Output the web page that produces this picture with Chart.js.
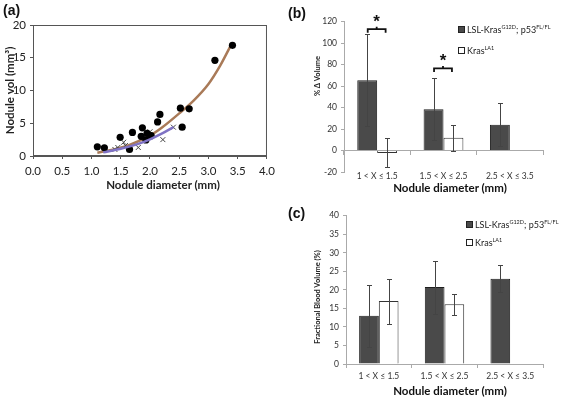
<!DOCTYPE html>
<html><head><meta charset="utf-8">
<script src="https://cdn.jsdelivr.net/npm/chart.js@4.4.0/dist/chart.umd.min.js"></script>
<style>
html,body{margin:0;padding:0;background:#fff;width:563px;height:399px;overflow:hidden;font-family:Lato,'Open Sans',sans-serif;}
.cv{position:absolute;}
.lbl{position:absolute;font-family:'Liberation Sans',Arial,sans-serif;font-weight:bold;font-size:14px;color:#111;line-height:1;}
.leg{position:absolute;font-size:9px;color:#222;white-space:nowrap;line-height:1;font-family:Lato,sans-serif;}
.leg sup{font-size:5.5px;vertical-align:4px;line-height:0;}
.sq{position:absolute;width:5px;height:5px;border:1px solid #222;}
.xt{position:absolute;font-family:Lato,sans-serif;font-weight:bold;color:#111;white-space:nowrap;line-height:1;transform:translate(-50%,-50%);}
.yt{position:absolute;font-family:Lato,sans-serif;font-weight:bold;color:#222;white-space:nowrap;line-height:1;font-size:7.5px;transform:translate(-50%,-50%) rotate(-90deg);}
</style></head><body>
<canvas id="ca" class="cv" width="280" height="200" style="left:0;top:0"></canvas>
<canvas id="cb" class="cv" width="283" height="200" style="left:280px;top:0"></canvas>
<canvas id="cc" class="cv" width="283" height="199" style="left:280px;top:200px"></canvas>
<div class="lbl" style="left:3px;top:3px">(a)</div>
<div class="lbl" style="left:288px;top:6px">(b)</div>
<div class="lbl" style="left:288px;top:206px">(c)</div>
<div class="xt" style="left:163px;top:185px;font-size:11.5px;color:#222">Nodule diameter (mm)</div>
<div class="xt" style="left:450px;top:188px;font-size:11.5px">Nodule diameter (mm)</div>
<div class="xt" style="left:450px;top:391px;font-size:11.5px">Nodule diameter (mm)</div>
<div class="yt" style="left:318px;top:76px">% &Delta; Volume</div>
<div class="yt" style="left:318px;top:297px">Fractional Blood Volume (%)</div>
<div class="sq" style="left:458px;top:26px;background:#4a4a4a"></div>
<div class="leg" style="left:467px;top:25px">LSL-Kras<sup>G12D</sup>; p53<sup>FL/FL</sup></div>
<div class="sq" style="left:458px;top:47px;background:#fff"></div>
<div class="leg" style="left:467px;top:46px">Kras<sup>LA1</sup></div>
<div class="sq" style="left:466px;top:221px;background:#4a4a4a"></div>
<div class="leg" style="left:475px;top:220px">LSL-Kras<sup>G12D</sup>; p53<sup>FL/FL</sup></div>
<div class="sq" style="left:466px;top:239px;background:#fff"></div>
<div class="leg" style="left:475px;top:238px">Kras<sup>LA1</sup></div>
<script>
// ---------- Panel (a) data ----------
const circX = [1.10,1.22,1.49,1.65,1.70,1.85,1.87,1.93,1.95,2.02,2.13,2.17,2.52,2.55,2.67,3.11,3.41];
const circY = [1.4,1.25,2.85,1.0,3.6,3.0,4.3,2.45,3.45,3.1,5.2,6.35,7.3,4.4,7.2,14.6,16.9];
const crossX = [1.40,1.45,1.55,1.58,1.80,1.93,2.00,2.22,2.40];
const crossY = [1.0,1.3,2.1,1.6,1.3,2.5,3.7,2.5,4.4];
const fitBrownX = [1.1,1.4,1.65,2.0,2.2,2.5,2.75,3.0,3.2,3.4];
const fitBrownY = [0.5,1.05,1.7,3.1,4.3,6.5,8.5,11.0,13.8,17.2];
const fitPurpleX = [1.2,1.5,1.8,2.0,2.2,2.4];
const fitPurpleY = [0.55,1.1,1.85,2.55,3.4,4.4];
const xTicksA = [0,0.5,1,1.5,2,2.5,3,3.5,4];

// ---------- Panels (b), (c) data ----------
const categories = ['1 < X \u2264 1.5','1.5 < X \u2264 2.5','2.5 < X \u2264 3.5'];
const volP53 = [65.5, 38.5, 24];
const volP53Lo = [22.5, 9.5, 4.5];
const volP53Hi = [108.5, 67.5, 44];
const volLA1 = [-2.3, 12, null];
const volLA1Lo = [-15.3, 0, null];
const volLA1Hi = [11.5, 24, null];
const sigCats = [0, 1];
const sigBracket = [113, 76.5];
const sigStar = [122, 85.5];

const fbvP53 = [13, 20.8, 23];
const fbvP53Lo = [4.5, 13.6, 19.3];
const fbvP53Hi = [21.3, 27.7, 26.7];
const fbvLA1 = [17, 16.1, null];
const fbvLA1Lo = [10.9, 13.1, null];
const fbvLA1Hi = [22.9, 18.9, null];

Chart.defaults.font.family = 'Lato';
Chart.defaults.color = '#333';

const boxPlugin = {id:'box', afterDraw(chart){ const a=chart.chartArea, c=chart.ctx; c.save(); c.strokeStyle='#555'; c.lineWidth=1; c.strokeRect(a.left+0.5,a.top+0.5,a.right-a.left-1,a.bottom-a.top-1); c.restore(); }};

const errPlugin = {id:'errbars', afterDatasetsDraw(chart, args, opts){
  if(!opts.sets) return;
  const ctx=chart.ctx, y=chart.scales.y;
  ctx.save(); ctx.strokeStyle='#444'; ctx.lineWidth=1;
  opts.sets.forEach((s,di)=>{
    const meta=chart.getDatasetMeta(di);
    meta.data.forEach((bar,i)=>{
      if(s.lo[i]==null||s.hi[i]==null) return;
      const x=Math.round(bar.x)+0.5;
      const y1=Math.round(y.getPixelForValue(s.lo[i]))+0.5, y2=Math.round(y.getPixelForValue(s.hi[i]))+0.5;
      ctx.beginPath();
      ctx.moveTo(x,y1); ctx.lineTo(x,y2);
      ctx.moveTo(x-2.5,y1); ctx.lineTo(x+2.5,y1);
      ctx.moveTo(x-2.5,y2); ctx.lineTo(x+2.5,y2);
      ctx.stroke();
    });
  });
  ctx.restore();
}};

const sigPlugin = {id:'sig', afterDraw(chart,args,opts){
  if(!opts.cats) return;
  const ctx=chart.ctx, y=chart.scales.y, m0=chart.getDatasetMeta(0), m1=chart.getDatasetMeta(1);
  ctx.save(); ctx.strokeStyle='#111'; ctx.fillStyle='#111'; ctx.lineWidth=1.8;
  opts.cats.forEach((c,k)=>{
    const xa=m0.data[c].x+0.5, xb=m1.data[c].x-1.5, xm=(xa+xb)/2;
    const yb=y.getPixelForValue(opts.bracket[k]);
    ctx.beginPath();
    ctx.moveTo(xa,yb+3.5); ctx.lineTo(xa,yb); ctx.lineTo(xb,yb); ctx.lineTo(xb,yb+3.5);
    ctx.moveTo(xm,yb); ctx.lineTo(xm,yb-2.5);
    ctx.stroke();
    ctx.font='bold 17px "Liberation Sans"'; ctx.textAlign='center'; ctx.textBaseline='middle';
    ctx.fillText('*', xm, y.getPixelForValue(opts.star[k])+3);
  });
  ctx.restore();
}};

// ---------- Chart (a) ----------
new Chart(document.getElementById('ca'), {
  type:'scatter',
  data:{datasets:[
    {data:circX.map((x,i)=>({x,y:circY[i]})), pointStyle:'circle', pointRadius:3.6, backgroundColor:'#000', borderColor:'#000', borderWidth:0, order:1},
    {data:crossX.map((x,i)=>({x,y:crossY[i]})), pointStyle:'crossRot', pointRadius:3.5, borderColor:'#444', borderWidth:1, order:2},
    {data:fitBrownX.map((x,i)=>({x,y:fitBrownY[i]})), showLine:true, pointRadius:0, borderColor:'#a97a58', borderWidth:2.5, cubicInterpolationMode:'monotone', order:3},
    {data:fitPurpleX.map((x,i)=>({x,y:fitPurpleY[i]})), showLine:true, pointRadius:0, borderColor:'#7f72c4', borderWidth:2.5, cubicInterpolationMode:'monotone', order:0}
  ]},
  options:{responsive:false, animation:false, events:[],
    layout:{padding:{top:25,right:12,left:0,bottom:0}},
    plugins:{legend:{display:false}, tooltip:{enabled:false}},
    scales:{
      x:{type:'linear', min:0, max:4, afterBuildTicks:(s)=>{s.ticks=xTicksA.map(v=>({value:v}));},
        ticks:{callback:(v)=>Number(v).toFixed(1), font:{size:11.5}, color:'#222', padding:5, maxRotation:0},
        grid:{display:true, drawOnChartArea:false, tickLength:3, color:'#555'}, border:{color:'#555'},
        title:{display:false},
        afterFit:(s)=>{s.height=44;}},
      y:{min:0, max:20, ticks:{stepSize:5, font:{size:11.5}, color:'#222', padding:4},
        grid:{display:true, drawOnChartArea:false, tickLength:3, color:'#555'}, border:{color:'#555'},
        title:{display:true, text:'Nodule vol (mm\u00b3)', font:{size:11.5, weight:'bold'}, color:'#222', padding:{top:3,bottom:0}},
        afterFit:(s)=>{s.width=33;}}
    }},
  plugins:[boxPlugin]
});

function barChart(id, p53, la1, lo0, hi0, lo1, hi1, yScale, yWidth, xHeight, padTop, xBottom, sig){
  const scales = {
    x:{type:'category', offset:true,
      grid:xBottom.grid, border:xBottom.border,
      ticks:{font:{size:8.5}, color:'#333', padding:xBottom.pad, maxRotation:0},
      title:{display:false},
      afterFit:(s)=>{s.height=xHeight;}},
    y:Object.assign({position:'left',
      grid:{display:true, drawOnChartArea:false, tickLength:3, color:'#aaa'}, border:{color:'#aaa'},
      title:{display:false},
      afterFit:(s)=>{s.width=yWidth;}}, yScale)
  };
  if (xBottom.zeroAxis) {
    scales.x2 = {type:'category', position:{y:0}, offset:true,
      grid:{offset:true, drawOnChartArea:false, drawTicks:true, tickLength:4, color:'#aaa'},
      border:{color:'#aaa'}, ticks:{display:false}};
  }
  return new Chart(document.getElementById(id), {
    type:'bar',
    data:{labels:categories, datasets:[
      {data:p53, backgroundColor:'#4a4a4a', borderColor:'#1e1e1e', borderWidth:1, categoryPercentage:0.6, barPercentage:1.0},
      {data:la1, backgroundColor:'#ffffff', borderColor:'#333', borderWidth:1, categoryPercentage:0.6, barPercentage:1.0}
    ]},
    options:{responsive:false, animation:false, events:[],
      layout:{padding:{top:padTop, right:20, left:0, bottom:0}},
      plugins:{legend:{display:false}, tooltip:{enabled:false},
        errbars:{sets:[{lo:lo0,hi:hi0},{lo:lo1,hi:hi1}]},
        sig: sig || {}},
      scales},
    plugins:[errPlugin, sigPlugin]
  });
}

// ---------- Chart (b) ----------
barChart('cb', volP53, volLA1, volP53Lo, volP53Hi, volLA1Lo, volLA1Hi,
  {min:-20, max:120, ticks:{stepSize:20, font:{size:8.5}, color:'#333', padding:4}},
  64, 28, 21.7,
  {grid:{display:false, drawTicks:false}, border:{display:false}, pad:-1, zeroAxis:true},
  {cats:sigCats, bracket:sigBracket, star:sigStar});

// ---------- Chart (c) ----------
barChart('cc', fbvP53, fbvLA1, fbvP53Lo, fbvP53Hi, fbvLA1Lo, fbvLA1Hi,
  {min:0, max:40, ticks:{stepSize:5, font:{size:8.5}, color:'#333', padding:4}},
  66, 35, 15.7,
  {grid:{display:true, offset:true, drawOnChartArea:false, tickLength:4, color:'#aaa'}, border:{color:'#aaa'}, pad:3, zeroAxis:false},
  null);
</script>
</body></html>
